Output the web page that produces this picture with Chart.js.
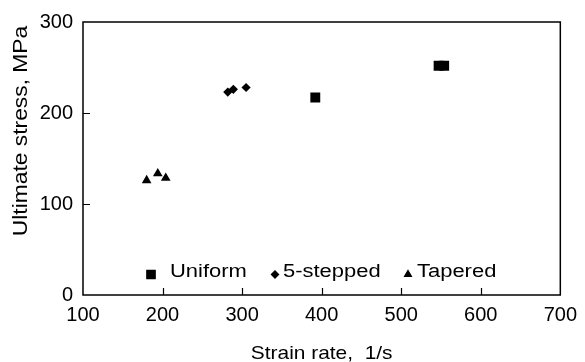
<!DOCTYPE html>
<html>
<head>
<meta charset="utf-8">
<script src="https://cdn.jsdelivr.net/npm/chart.js@4.4.1/dist/chart.umd.min.js"></script>
<style>
  html, body { margin: 0; padding: 0; background: #fff; }
  #wrap { width: 585px; height: 362px; }
</style>
</head>
<body>
<div id="wrap"><canvas id="chart" width="585" height="362"></canvas></div>
<script>
// =========================
// DATOS
// =========================
const uniformRate   = [392, 547, 554];
const uniformStress = [217, 252, 252];
const steppedRate   = [282, 289, 305];
const steppedStress = [223, 226, 228];
const taperedRate   = [180, 194, 204];
const taperedStress = [126, 133.5, 128.5];

const seriesNames = ['Uniform', '5-stepped', 'Tapered'];
const xTicks = [100, 200, 300, 400, 500, 600, 700];
const yTicks = [0, 100, 200, 300];
const xTitle = 'Strain rate,  1/s';
const yTitle = 'Ultimate stress, MPa';

const FONT = '"Liberation Sans", Arial, Helvetica, sans-serif';
const FONT_SIZE = 20;

function toPoints(xs, ys){
    return xs.map((x, i) => ({ x: x, y: ys[i] }));
}

// dibuja un marcador con la misma forma que usa Chart.js
function marker(ctx, style, r, x, y){
    if (Chart.helpers && Chart.helpers.drawPoint) {
        Chart.helpers.drawPoint(ctx, { pointStyle: style, radius: r, rotation: 0, borderWidth: 1 }, x, y);
        ctx.fill();
        return;
    }
    ctx.beginPath();
    ctx.arc(x, y, r, 0, Math.PI * 2);
    ctx.fill();
}

// texto algo mas ancho, como en la figura original
function wideText(ctx, text, x, y, size, stretch, angle){
    ctx.save();
    ctx.translate(x, y);
    if (angle) ctx.rotate(angle);
    ctx.scale(stretch, 1);
    ctx.font = size + 'px ' + FONT;
    ctx.fillText(text, 0, 0);
    ctx.restore();
}

// =========================
// PLUGIN: marco, ticks hacia dentro, titulos y leyenda
// =========================
const framePlugin = {
    id: 'frame',
    afterDatasetsDraw(chart){
        const ctx = chart.ctx;
        const a = chart.chartArea;
        const xs = chart.scales.x;
        const ys = chart.scales.y;
        ctx.save();
        ctx.strokeStyle = '#000';
        ctx.lineWidth = 1.5;
        ctx.strokeRect(a.left, a.top, a.right - a.left, a.bottom - a.top);

        // ticks hacia dentro
        ctx.beginPath();
        xTicks.slice(1, -1).forEach(v => {
            const px = Math.round(xs.getPixelForValue(v)) + 0.5;
            ctx.moveTo(px, a.bottom);
            ctx.lineTo(px, a.bottom - 7);
        });
        yTicks.slice(1, -1).forEach(v => {
            const py = Math.round(ys.getPixelForValue(v)) + 0.5;
            ctx.moveTo(a.left, py);
            ctx.lineTo(a.left + 7, py);
        });
        ctx.lineWidth = 1.2;
        ctx.stroke();

        // titulos de ejes
        ctx.fillStyle = '#000';
        ctx.textAlign = 'center';
        ctx.textBaseline = 'alphabetic';
        wideText(ctx, xTitle, (a.left + a.right) / 2, 359, 19, 1.1, 0);
        wideText(ctx, yTitle, 27, 131, 19.5, 1.17, -Math.PI / 2);

        // leyenda dentro del area
        const items = [
            { style: 'rect',     r: 5.9, mx: 151, tx: 170 },
            { style: 'rectRot',  r: 3.6, mx: 275, tx: 283 },
            { style: 'triangle', r: 4.0, mx: 408, tx: 417 }
        ];
        ctx.textAlign = 'left';
        items.forEach((it, i) => {
            ctx.fillStyle = '#000';
            marker(ctx, it.style, it.r, it.mx, 274.5);
            wideText(ctx, seriesNames[i], it.tx, 277, 18, 1.22, 0);
        });
        ctx.restore();
    }
};

const ctx = document.getElementById('chart').getContext('2d');

new Chart(ctx, {
    type: 'scatter',
    data: {
        datasets: [
            {
                label: seriesNames[0],
                data: toPoints(uniformRate, uniformStress),
                pointStyle: 'rect',
                pointRadius: 7,
                backgroundColor: '#000',
                borderColor: '#000',
                borderWidth: 0
            },
            {
                label: seriesNames[1],
                data: toPoints(steppedRate, steppedStress),
                pointStyle: 'rectRot',
                pointRadius: 4.6,
                backgroundColor: '#000',
                borderColor: '#000',
                borderWidth: 0
            },
            {
                label: seriesNames[2],
                data: toPoints(taperedRate, taperedStress),
                pointStyle: 'triangle',
                pointRadius: 5.6,
                backgroundColor: '#000',
                borderColor: '#000',
                borderWidth: 0
            }
        ]
    },
    options: {
        responsive: false,
        animation: false,
        devicePixelRatio: 1,
        layout: { padding: { top: 19, right: 24, left: 0, bottom: 0 } },
        plugins: {
            legend: { display: false },
            tooltip: { enabled: false }
        },
        scales: {
            x: {
                type: 'linear',
                min: 100,
                max: 700,
                grid: { display: false, drawTicks: false },
                border: { display: false },
                ticks: {
                    stepSize: 100,
                    color: '#000',
                    padding: 8,
                    maxRotation: 0,
                    font: { family: FONT, size: FONT_SIZE }
                },
                afterFit(scale){ scale.height = 67; }
            },
            y: {
                type: 'linear',
                min: 0,
                max: 300,
                grid: { display: false, drawTicks: false },
                border: { display: false },
                ticks: {
                    stepSize: 100,
                    color: '#000',
                    padding: 10,
                    font: { family: FONT, size: FONT_SIZE }
                },
                afterFit(scale){ scale.width = 83; }
            }
        }
    },
    plugins: [framePlugin]
});
</script>
</body>
</html>
